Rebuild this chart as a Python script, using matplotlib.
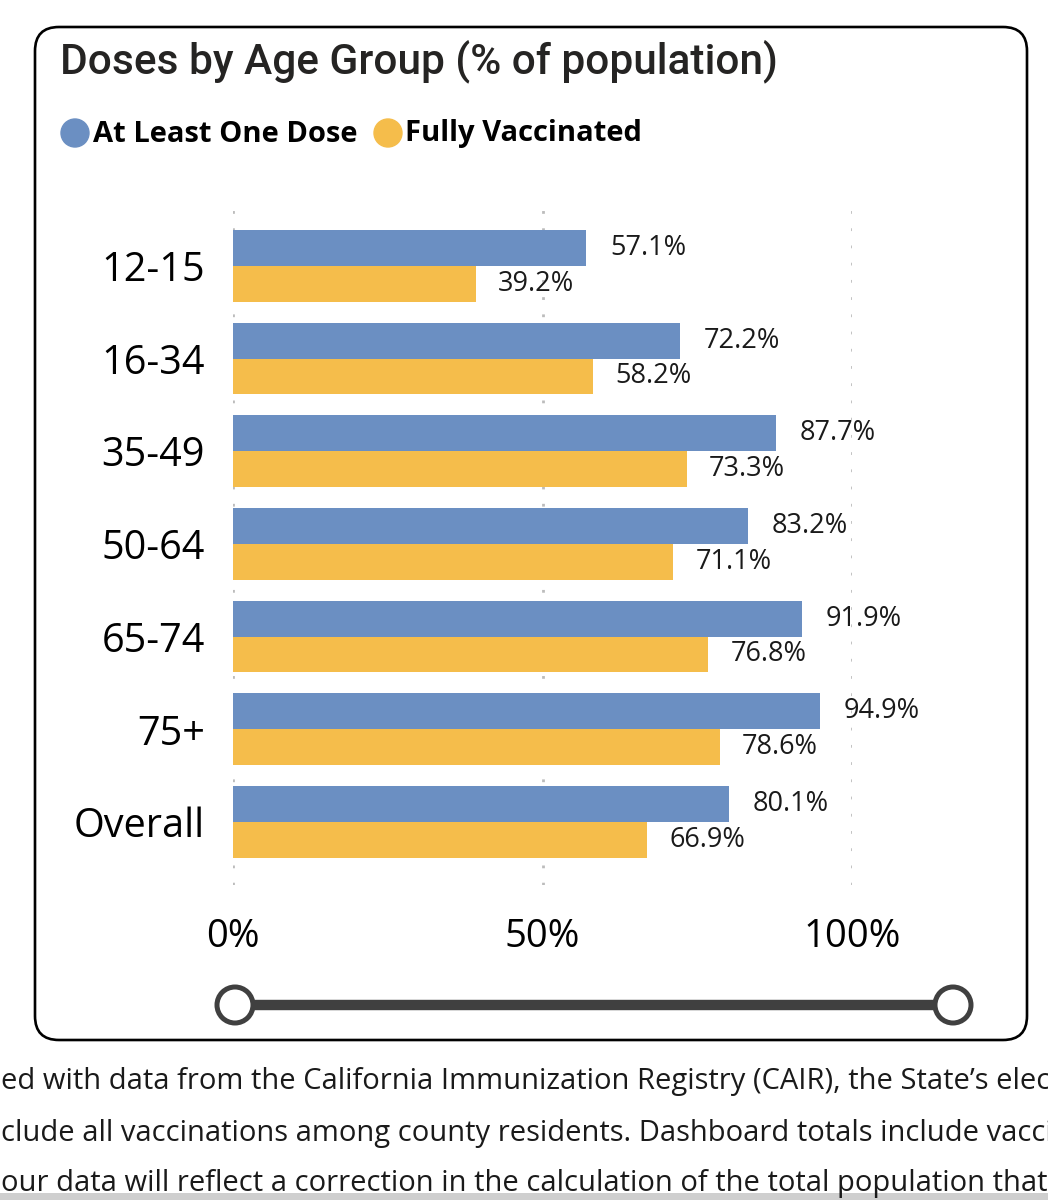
import matplotlib
matplotlib.use("Agg")
import matplotlib.pyplot as plt
from matplotlib.patches import Circle, FancyBboxPatch
import numpy as np

# data
age_groups = ["12-15", "16-34", "35-49", "50-64", "65-74", "75+", "Overall"]
one_dose = [57.1, 72.2, 87.7, 83.2, 91.9, 94.9, 80.1]
fully_vax = [39.2, 58.2, 73.3, 71.1, 76.8, 78.6, 66.9]
series_names = ["At Least One Dose", "Fully Vaccinated"]
x_ticks = [0, 50, 100]
x_tick_labels = ["0%", "50%", "100%"]
title = "Doses by Age Group (% of population)"
footer_lines = [
    "ed with data from the California Immunization Registry (CAIR), the State\u2019s elec",
    "clude all vaccinations among county residents. Dashboard totals include vacci",
    "our data will reflect a correction in the calculation of the total population that",
]

BLUE = "#6b8fc2"
YELLOW = "#f5bd4b"
INK = "#1a1a1a"
SLIDER = "#404040"
W, H = 1048, 1200

plt.rcParams["font.family"] = ["Open Sans", "DejaVu Sans"]

fig = plt.figure(figsize=(W / 100, H / 100), dpi=100)

# overlay in pixel units for frame, legend, slider, footer
bg = fig.add_axes([0, 0, 1, 1])
bg.set_xlim(0, W)
bg.set_ylim(H, 0)
bg.axis("off")

bg.add_patch(FancyBboxPatch((35, 27), 992, 1013,
                            boxstyle="round,pad=0,rounding_size=24",
                            facecolor="white", edgecolor="black", lw=1.9))
bg.text(60, 61, title, fontsize=30.5, family=["Roboto", "DejaVu Sans"],
        fontweight="medium", color="#252423", va="center", ha="left")

bg.add_patch(Circle((75, 133), 14, color=BLUE))
bg.text(93, 134, series_names[0], fontsize=21, fontweight="bold",
        color="black", va="center", ha="left")
bg.add_patch(Circle((388, 133), 14, color=YELLOW))
bg.text(405, 134, series_names[1], fontsize=21, fontweight="bold",
        color="black", va="center", ha="left")

bg.plot([235, 953], [1005, 1005], color=SLIDER, lw=7.5, solid_capstyle="butt")
for cx in (235, 953):
    bg.add_patch(Circle((cx, 1005), 18, facecolor="white", edgecolor=SLIDER, lw=3.6, zorder=3))

for i, line in enumerate(footer_lines):
    bg.text(1, 1082 + 51 * i, line, fontsize=21, color=INK, va="center", ha="left")
bg.add_patch(plt.Rectangle((0, 1193), W, 7, color="#cfcfcf", lw=0))

# the chart itself
ax = fig.add_axes([233 / W, 1 - 885 / H, (852 - 233) / W, 685 / H])
ax.patch.set_alpha(0)
y = np.arange(len(age_groups))
h = 0.387
b1 = ax.barh(y - h / 2, one_dose, height=h, color=BLUE, zorder=2)
b2 = ax.barh(y + h / 2, fully_vax, height=h, color=YELLOW, zorder=2)
for bars, vals, pad in ((b1, one_dose, 17), (b2, fully_vax, 16)):
    labels = ax.bar_label(bars, labels=[f"{v:.1f}%" for v in vals], padding=pad,
                          fontsize=19.5, color=INK)
    for t in labels:
        t.set_y(t.get_position()[1] + 0.04)

ax.set_xlim(0, 100)
ax.set_ylim(6.68, -0.71)
ax.set_yticks(y)
ax.set_yticklabels(age_groups, fontsize=28.5, color="black")
ax.set_xticks(x_ticks)
ax.set_xticklabels(x_tick_labels, fontsize=27.5, color="black")
ax.tick_params(axis="y", length=0, pad=20)
ax.tick_params(axis="x", length=0, pad=24)
for s in ax.spines.values():
    s.set_visible(False)
ax.grid(axis="x", color="#bcbcbc", lw=2, linestyle=(0, (1, 5.2)), zorder=0)

fig.savefig("out.png", dpi=100)
